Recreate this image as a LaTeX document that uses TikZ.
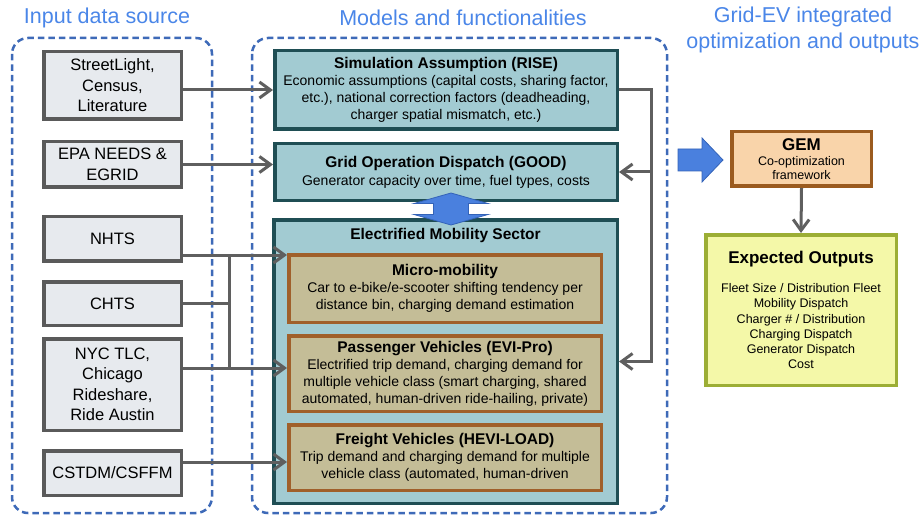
\documentclass[tikz,border=0pt]{standalone}
\usepackage{fontspec}
\setmainfont{Liberation Sans}
\usetikzlibrary{arrows.meta,calc}
\definecolor{ttlblue}{RGB}{74,134,232}
\definecolor{dashblue}{RGB}{62,106,184}
\definecolor{srcfill}{RGB}{231,234,238}
\definecolor{srcdraw}{RGB}{90,90,90}
\definecolor{tealfill}{RGB}{162,203,210}
\definecolor{tealdraw}{RGB}{31,78,84}
\definecolor{khfill}{RGB}{196,189,151}
\definecolor{khdraw}{RGB}{160,96,43}
\definecolor{conncol}{RGB}{95,95,95}
\definecolor{barrow}{RGB}{74,128,222}
\definecolor{barrowd}{RGB}{52,99,184}
\definecolor{gemfill}{RGB}{249,212,170}
\definecolor{gemdraw}{RGB}{155,91,31}
\definecolor{outfill}{RGB}{244,248,168}
\definecolor{outdraw}{RGB}{156,174,53}
\newcommand{\boxhead}[1]{{\fontsize{15.5}{17}\selectfont\bfseries #1}}
\begin{document}
\begin{tikzpicture}[x=1pt,y=-1pt,
 ttl/.style={text=ttlblue,font=\fontsize{21.5}{26}\selectfont,align=center,inner sep=0},
 grp/.style={draw=dashblue,line width=2.5pt,dash pattern=on 6.5pt off 4pt,rounded corners=16pt},
 srcbox/.style={draw=srcdraw,fill=srcfill,line width=3.5pt,minimum width=137.5pt,align=center,font=\fontsize{16.5}{20.5}\selectfont,inner sep=0},
 modelbox/.style={draw=tealdraw,fill=tealfill,line width=3.5pt,minimum width=342.5pt,align=center,font=\fontsize{14}{17}\selectfont,inner sep=0},
 subbox/.style={draw=khdraw,fill=khfill,line width=3.5pt,minimum width=312.5pt,align=center,font=\fontsize{14}{17}\selectfont,inner sep=0},
 conn/.style={draw=conncol,line width=3pt,-{Straight Barb[length=11pt,width=16pt]}},
 plainconn/.style={draw=conncol,line width=3pt},
 blockarrow/.style={fill=barrow,draw=barrowd,line width=0.8pt,line join=miter},
]
\useasboundingbox (0,0) rectangle (924,516);

% group frames
\draw[grp] (12,38) rectangle (212,513);
\draw[grp] (252,38) rectangle (667,513);

% titles
\node[ttl] (t1) at (107,18) {Input data source};
\node[ttl] (t2) at (463,18) {Models and functionalities};
\node[ttl] (t3) at (803,30) {Grid-EV integrated\\optimization and outputs};

% sources
\node[srcbox,minimum height=67.5pt] (sl) at (112.5,85.5) {StreetLight,\\Census,\\Literature};
\node[srcbox,minimum height=45.5pt] (epa) at (112.5,164.5) {EPA NEEDS \&\\EGRID};
\node[srcbox,minimum height=44.5pt] (nhts) at (112.5,238.5) {NHTS};
\node[srcbox,minimum height=43.5pt] (chts) at (112.5,303.5) {CHTS};
\node[srcbox,minimum height=91.5pt] (nyc) at (112.5,384.5) {NYC TLC,\\Chicago\\Rideshare,\\Ride Austin};
\node[srcbox,minimum height=44.5pt] (cst) at (112.5,473) {CSTDM/CSFFM};

% models
\node[modelbox,minimum height=78.5pt] (rise) at (446,90) {\boxhead{Simulation Assumption (RISE)}\\Economic assumptions (capital costs, sharing factor,\\etc.), national correction factors (deadheading,\\charger spatial mismatch, etc.)};
\node[modelbox,minimum height=56.5pt] (good) at (446,172) {\boxhead{Grid Operation Dispatch (GOOD)}\\[1pt]Generator capacity over time, fuel types, costs};
\node[modelbox,minimum width=343.5pt,minimum height=283.5pt] (ems) at (445.5,361.5) {};
\node[inner sep=0,font=\fontsize{15.5}{17}\selectfont\bfseries] (emst) at (445.5,235) {Electrified Mobility Sector};
\node[subbox,minimum height=67.5pt] (micro) at (445,288.5) {\boxhead{Micro-mobility}\\Car to e-bike/e-scooter shifting tendency per\\distance bin, charging demand estimation};
\node[subbox,minimum height=75.5pt] (pass) at (445,373.5) {\boxhead{Passenger Vehicles (EVI-Pro)}\\Electrified trip demand, charging demand for\\multiple vehicle class (smart charging, shared\\automated, human-driven ride-hailing, private)};
\node[subbox,minimum height=65.5pt] (frt) at (445,457.5) {\boxhead{Freight Vehicles (HEVI-LOAD)}\\Trip demand and charging demand for multiple\\vehicle class (automated, human-driven};

% double block arrow GOOD <-> EMS
\filldraw[blockarrow] (451,193) -- (488,203.5) -- (468.5,203.5) -- (468.5,214.5) -- (488,214.5) -- (451,225) -- (414,214.5) -- (433.5,214.5) -- (433.5,203.5) -- (414,203.5) -- cycle;

% GEM and outputs
\node[draw=gemdraw,fill=gemfill,line width=3.5pt,minimum width=139.5pt,minimum height=54.5pt,align=center,inner sep=0,font=\fontsize{12.5}{14}\selectfont] (gem) at (801.5,159) {{\fontsize{17}{18}\selectfont\bfseries GEM}\\[1pt]Co-optimization\\framework};
\node[draw=outdraw,fill=outfill,line width=3.5pt,minimum width=190.5pt,minimum height=150.5pt,align=center,inner sep=0,font=\fontsize{12.5}{15.2}\selectfont] (exp) at (801,310) {{\fontsize{17}{20}\selectfont\bfseries Expected Outputs}\\[14pt]Fleet Size / Distribution Fleet\\Mobility Dispatch\\Charger \# / Distribution\\Charging Dispatch\\Generator Dispatch\\Cost};

% big block arrow to GEM
\filldraw[blockarrow] (678,149) -- (702,149) -- (702,138) -- (723,160) -- (702,182) -- (702,171) -- (678,171) -- cycle;

% connectors
\draw[conn] (sl.east |- rise.west) -- (rise.west);
\draw[conn] (epa.east) -- (epa.east -| good.west);
\coordinate (bus) at (229,0);
\coordinate (j1) at ([yshift=-16.5pt]nhts.east);
\coordinate (j2) at ([yshift=16.5pt]nyc.east);
\coordinate (j3) at ([yshift=11pt]cst.east);
\draw[conn] (j1) -- (j1 -| micro.west);
\draw[conn] (j2) -- (j2 -| pass.west);
\draw[plainconn] (chts.east) -- (chts.east -| bus);
\draw[plainconn] (j1 -| bus) -- (j2 -| bus);
\draw[conn] (j3) -- (j3 -| frt.west);

\draw[conn] (rise.east) -- ++(32,0) coordinate (fb) |- (ems.east);
\draw[conn] (fb |- good.east) -- (good.east);
\draw[conn] (gem.south) -- (exp.north);
\end{tikzpicture}
\end{document}
